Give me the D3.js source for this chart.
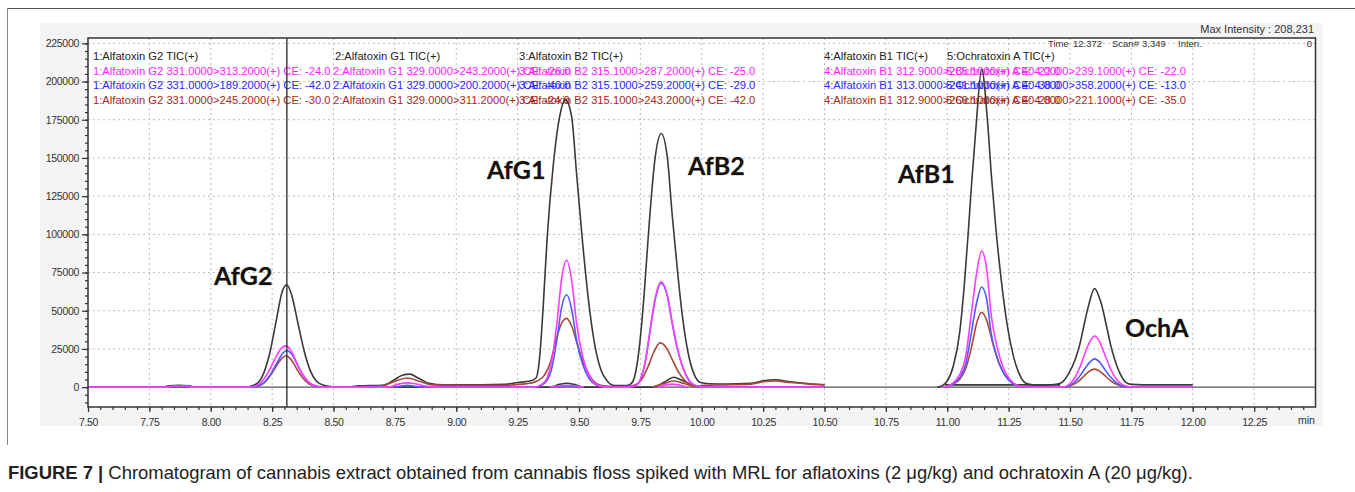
<!DOCTYPE html>
<html><head><meta charset="utf-8">
<script src="https://cdn.jsdelivr.net/npm/d3@7"></script>
<style>body{margin:0;background:#fff;} svg{display:block;}</style>
</head><body>
<svg id="c" width="1355" height="492"></svg>
<script>
// ---------------- DATA ----------------
const xTickLabels = ["7.50","7.75","8.00","8.25","8.50","8.75","9.00","9.25","9.50","9.75","10.00","10.25","10.50","10.75","11.00","11.25","11.50","11.75","12.00","12.25"];
const yTickValues = [0,25000,50000,75000,100000,125000,150000,175000,200000,225000];
const cursorTime = 8.31;
const maxIntensity = "Max Intensity : 208,231";
const statusTexts = ["Time", "12.372", "Scan#", "3,349", "Inten.", "0"];

const channelTitles = ["1:Alfatoxin G2 TIC(+)","2:Alfatoxin G1 TIC(+)","3:Alfatoxin B2 TIC(+)","4:Alfatoxin B1 TIC(+)","5:Ochratoxin A TIC(+)"];
const mrmMagenta = ["1:Alfatoxin G2 331.0000>313.2000(+) CE: -24.0","2:Alfatoxin G1 329.0000>243.2000(+) CE: -26.0","3:Alfatoxin B2 315.1000>287.2000(+) CE: -25.0","4:Alfatoxin B1 312.9000>285.1000(+) CE: -22.0","5:Ochratoxin A 404.0000>239.1000(+) CE: -22.0"];
const mrmBlue = ["1:Alfatoxin G2 331.0000>189.2000(+) CE: -42.0","2:Alfatoxin G1 329.0000>200.2000(+) CE: -40.0","3:Alfatoxin B2 315.1000>259.2000(+) CE: -29.0","4:Alfatoxin B1 313.0000>241.1000(+) CE: -38.0","5:Ochratoxin A 404.0000>358.2000(+) CE: -13.0"];
const mrmBrown = ["1:Alfatoxin G2 331.0000>245.2000(+) CE: -30.0","2:Alfatoxin G1 329.0000>311.2000(+) CE: -24.0","3:Alfatoxin B2 315.1000>243.2000(+) CE: -42.0","4:Alfatoxin B1 312.9000>269.1000(+) CE: -28.0","5:Ochratoxin A 404.0000>221.1000(+) CE: -35.0"];

const peakNames = ["AfG2","AfG1","AfB2","AfB1","OchA"];

// traces: [retention time (min), intensity]; null intensity = gap between segments
const blackTrace = [
 [7.50,0],[7.80,0],[7.83,900],[7.87,1200],[7.91,900],[7.94,0],[8.14,0],[8.18,1500],[8.21,7000],[8.24,22000],[8.265,42000],[8.29,62000],[8.31,67000],[8.33,60000],[8.355,42000],[8.38,24000],[8.405,11000],[8.43,4000],[8.46,1200],[8.50,300],[8.57,300],
 [8.60,800],[8.70,1200],[8.74,4000],[8.78,7800],[8.81,8500],[8.845,6000],[8.89,2500],[8.95,1500],[9.10,1500],[9.20,1800],[9.25,3000],[9.30,4000],[9.325,6000],[9.34,20000],[9.355,55000],[9.37,97000],[9.395,145000],[9.42,176000],[9.445,188000],[9.47,177000],[9.49,140000],[9.515,94000],[9.54,55000],[9.565,27000],[9.59,11000],[9.615,4000],[9.645,1000],
 [9.69,1000],[9.71,2000],[9.725,6000],[9.745,25000],[9.765,60000],[9.785,105000],[9.81,150000],[9.835,166000],[9.86,150000],[9.88,112000],[9.90,78000],[9.92,48000],[9.945,22000],[9.97,8000],[9.995,3000],[10.03,2200],[10.10,2000],[10.20,2500],[10.25,4200],[10.30,4800],[10.36,3500],[10.44,2200],[10.50,1500],[10.50,null],
 [10.96,0],[10.98,1000],[11.00,4000],[11.025,14000],[11.05,35000],[11.07,68000],[11.085,100000],[11.10,135000],[11.118,172000],[11.14,208231],[11.165,172000],[11.18,138000],[11.198,104000],[11.22,70000],[11.245,40000],[11.27,20000],[11.295,8000],[11.32,2500],[11.35,1500],
 [11.42,1500],[11.45,2000],[11.47,3500],[11.495,9000],[11.52,17600],[11.54,28000],[11.555,39000],[11.575,53000],[11.60,64500],[11.625,56000],[11.65,39000],[11.665,28000],[11.683,17600],[11.705,8500],[11.725,3500],[11.75,1800],[11.80,1500],[12.00,1500]
];
const blackMinor = [
 [8.57,0],[9.38,0],[9.42,1800],[9.45,2500],[9.48,1800],[9.52,0],[9.80,0],[9.85,3500],[9.885,6500],[9.92,4500],[9.96,1500],[10.00,0],[10.50,0],[10.50,null],
 [10.99,1500],[11.46,1500]
];
const magentaTrace = [
 [7.50,0],[7.82,0],[7.845,700],[7.90,700],[7.925,0],[8.16,0],[8.20,2500],[8.23,8500],[8.26,18000],[8.285,25000],[8.305,27000],[8.325,24500],[8.35,16000],[8.375,8000],[8.40,3000],[8.43,800],[8.46,0],
 [8.72,0],[8.76,1800],[8.80,2800],[8.84,2000],[8.88,500],[8.92,0],
 [9.32,0],[9.345,1500],[9.37,6000],[9.39,18000],[9.41,42000],[9.43,72000],[9.45,83000],[9.47,70000],[9.49,42000],[9.515,20000],[9.54,8000],[9.565,2500],[9.59,500],[9.62,0],
 [9.70,0],[9.73,1000],[9.75,5000],[9.77,17000],[9.79,38000],[9.81,58000],[9.835,69000],[9.86,60000],[9.88,42000],[9.90,26000],[9.925,12000],[9.95,4000],[9.975,1000],[10.00,0],[10.50,0],[10.50,null],
 [10.98,0],[11.00,500],[11.025,3000],[11.05,8000],[11.075,20000],[11.095,44000],[11.12,75000],[11.14,89000],[11.16,78000],[11.18,46000],[11.205,25000],[11.23,12000],[11.255,5000],[11.28,1500],[11.31,300],[11.34,0],
 [11.47,0],[11.49,1000],[11.515,5000],[11.54,13000],[11.565,24000],[11.585,31000],[11.60,33500],[11.62,30000],[11.64,22000],[11.665,12000],[11.69,5000],[11.715,1500],[11.74,300],[11.77,0],[12.00,0]
];
const magentaMinor = [[9.38,0],[9.45,1200],[9.52,0],[9.52,null],[9.82,0],[9.88,2000],[9.94,0]];
const blueTrace = [
 [7.50,0],[8.17,0],[8.21,2200],[8.24,7500],[8.27,16000],[8.29,21500],[8.31,24000],[8.33,21500],[8.355,14000],[8.38,7000],[8.405,2500],[8.43,600],[8.47,0],
 [8.74,0],[8.80,1200],[8.86,0],
 [9.32,0],[9.345,1100],[9.37,4400],[9.39,13000],[9.41,31000],[9.43,53000],[9.45,60500],[9.47,51000],[9.49,31000],[9.515,15000],[9.54,6000],[9.565,1800],[9.59,400],[9.62,0],
 [9.70,0],[9.73,900],[9.75,4800],[9.77,16500],[9.79,37000],[9.81,57000],[9.835,68000],[9.86,59500],[9.88,41500],[9.90,25500],[9.925,11800],[9.95,3900],[9.975,900],[10.00,0],[10.50,0],[10.50,null],
 [10.98,0],[11.00,400],[11.025,2200],[11.05,6000],[11.075,15000],[11.095,32500],[11.12,55500],[11.14,65500],[11.16,58000],[11.18,34000],[11.205,18500],[11.23,9000],[11.255,3700],[11.28,1100],[11.31,200],[11.34,0],
 [11.47,0],[11.49,600],[11.515,2800],[11.54,7200],[11.565,13200],[11.585,17000],[11.60,18500],[11.62,16500],[11.64,12000],[11.665,6600],[11.69,2800],[11.715,800],[11.74,200],[11.77,0],[12.00,0]
];
const blueMinor = [[9.40,0],[9.45,800],[9.50,0]];
const brownTrace = [
 [7.50,0],[7.84,0],[7.86,700],[7.90,700],[7.92,0],[8.17,0],[8.21,2000],[8.24,7000],[8.27,14500],[8.29,19000],[8.305,20500],[8.325,18500],[8.35,12000],[8.375,6000],[8.40,2200],[8.43,500],[8.46,0],
 [8.60,300],[8.70,800],[8.745,3500],[8.80,6000],[8.85,3800],[8.90,1500],[9.00,1200],[9.20,1200],
 [9.27,2000],[9.30,2500],[9.33,4000],[9.36,8000],[9.385,17000],[9.41,33000],[9.43,42000],[9.45,45000],[9.47,40000],[9.495,27000],[9.52,15000],[9.545,7000],[9.57,2500],[9.60,800],[9.64,300],
 [9.70,500],[9.73,1500],[9.755,5000],[9.78,13000],[9.805,23000],[9.83,29000],[9.855,26000],[9.88,18000],[9.905,10000],[9.93,4500],[9.955,1800],[9.98,700],[10.01,1200],[10.10,1500],[10.20,2000],[10.25,3500],[10.30,4000],[10.36,3000],[10.44,2000],[10.50,1500],[10.50,null],
 [10.98,0],[11.00,500],[11.025,2000],[11.05,5000],[11.075,12000],[11.10,27000],[11.12,42000],[11.14,49000],[11.16,44000],[11.185,29000],[11.21,16000],[11.235,8000],[11.26,3500],[11.285,1200],[11.31,300],[11.34,0],
 [11.47,0],[11.49,400],[11.515,1800],[11.54,4600],[11.565,8500],[11.585,11000],[11.60,11800],[11.62,10500],[11.64,7800],[11.665,4300],[11.69,1800],[11.715,500],[11.74,100],[11.77,0],[12.00,0]
];
const brownMinor = [[9.80,0],[9.85,2500],[9.885,4000],[9.92,2800],[9.96,800],[10.00,0]];

const captionBold = "FIGURE 7 |";
const captionText = " Chromatogram of cannabis extract obtained from cannabis floss spiked with MRL for aflatoxins (2 \u03bcg/kg) and ochratoxin A (20 \u03bcg/kg).";

// ---------------- LAYOUT / STYLE ----------------
const svg = d3.select("#c");
const FONT = "'Liberation Sans', Arial, sans-serif";
const x = d3.scaleLinear().domain([7.5, 12.5]).range([88, 1315.5]);
const y = d3.scaleLinear().domain([-13000, 228500]).range([407, 38]);
const colors = {black:"#3a3a3a", magenta:"#ff3cff", blue:"#4f5bff", brown:"#a8473c"};

// figure box
svg.append("line").attr("x1",7).attr("x2",1355).attr("y1",8.5).attr("y2",8.5).attr("stroke","#555").attr("stroke-width",1.2);
svg.append("line").attr("x1",7.5).attr("x2",7.5).attr("y1",8).attr("y2",445).attr("stroke","#888").attr("stroke-width",1);

// grey panel
svg.append("rect").attr("x",40).attr("y",23).attr("width",1283).attr("height",403).attr("fill","#f4f4f4");
// plot area
svg.append("rect").attr("x",x(7.5)).attr("y",y(228500)).attr("width",x(12.5)-x(7.5)).attr("height",y(-13000)-y(228500)).attr("fill","#fff");

// gridlines
const grid = svg.append("g").attr("stroke","#bdbdbd").attr("stroke-width",1).attr("stroke-dasharray","2,3");
xTickLabels.slice(1).forEach(t => {
  grid.append("line").attr("x1",x(+t)).attr("x2",x(+t)).attr("y1",y(228500)).attr("y2",y(-13000));
});
yTickValues.slice(1).forEach(v => {
  grid.append("line").attr("x1",x(7.5)).attr("x2",x(12.5)).attr("y1",y(v)).attr("y2",y(v));
});

// header texts
const headerX = [93, 333, 519, 824, 946];
const hdr = svg.append("g").attr("font-family",FONT).attr("font-size","11.2px");
const rows = [[channelTitles,"#222",60,[93,335,519,824,947]],[mrmMagenta,"#ff22ff",74.5,headerX],[mrmBlue,"#2a2aff",89,headerX],[mrmBrown,"#a52a22",103.5,headerX]];
rows.forEach(([arr,col,yy,xs]) => {
  arr.forEach((s,i) => hdr.append("text").attr("x",xs[i]).attr("y",yy).attr("fill",col).text(s));
});

// status line
const stX = [1048, 1073, 1112, 1142, 1178];
statusTexts.slice(0,5).forEach((s,i)=> svg.append("text").attr("x",stX[i]).attr("y",47).attr("font-family",FONT).attr("font-size","9.5px").attr("fill","#333").text(s));
svg.append("text").attr("x",1312).attr("y",47).attr("text-anchor","end").attr("font-family",FONT).attr("font-size","9.5px").attr("fill","#333").text(statusTexts[5]);
svg.append("text").attr("x",1314).attr("y",33).attr("text-anchor","end").attr("font-family",FONT).attr("font-size","11px").attr("fill","#333").text(maxIntensity);

// clip
svg.append("clipPath").attr("id","clip").append("rect").attr("x",x(7.5)).attr("y",y(228500)).attr("width",x(12.5)-x(7.5)).attr("height",y(-13000)-y(228500));

// zero line
svg.append("line").attr("x1",x(7.5)).attr("x2",x(12.5)).attr("y1",y(0)).attr("y2",y(0)).attr("stroke","#555").attr("stroke-width",1.2);

const line = d3.line().defined(d => d[1] !== null).x(d => x(d[0])).y(d => y(d[1])).curve(d3.curveMonotoneX);
const traces = svg.append("g").attr("clip-path","url(#clip)").attr("fill","none").attr("stroke-width",1.6).attr("stroke-linejoin","round");
[[blackMinor,colors.black],[brownMinor,colors.brown],[blueMinor,colors.blue],[magentaMinor,colors.magenta],
 [blackTrace,colors.black],[brownTrace,colors.brown],[blueTrace,colors.blue],[magentaTrace,colors.magenta]].forEach(([d,c]) => {
  traces.append("path").datum(d).attr("d",line).attr("stroke",c);
});

// cursor line
svg.append("line").attr("x1",x(cursorTime)).attr("x2",x(cursorTime)).attr("y1",y(228500)).attr("y2",y(-13000)).attr("stroke","#222").attr("stroke-width",1.3);

// frame
svg.append("rect").attr("x",x(7.5)).attr("y",y(228500)).attr("width",x(12.5)-x(7.5)).attr("height",y(-13000)-y(228500)).attr("fill","none").attr("stroke","#333").attr("stroke-width",1.5);

// axes
const yAxisMinor = d3.axisLeft(y).tickValues(d3.range(-10000, 228001, 5000)).tickSize(3).tickFormat("");
const yAxis = d3.axisLeft(y).tickValues(yTickValues).tickSize(6).tickFormat(d => String(d));
const gy1 = svg.append("g").attr("transform",`translate(${x(7.5)},0)`).call(yAxisMinor);
const gy = svg.append("g").attr("transform",`translate(${x(7.5)},0)`).call(yAxis);
const xAxisMinor = d3.axisBottom(x).tickValues(d3.range(7.5, 12.49, 0.05)).tickSize(3).tickFormat("");
const xAxis = d3.axisBottom(x).tickValues(xTickLabels.map(Number)).tickSize(5).tickFormat((d,i) => xTickLabels[i]);
const gx1 = svg.append("g").attr("transform",`translate(0,${y(-13000)})`).call(xAxisMinor);
const gx = svg.append("g").attr("transform",`translate(0,${y(-13000)})`).call(xAxis);
[gy1,gy,gx1,gx].forEach(g => {
  g.select(".domain").remove();
  g.selectAll("line").attr("stroke","#333").attr("stroke-width",1.2);
  g.selectAll("text").attr("font-family",FONT).attr("font-size","10.5px").attr("fill","#333").attr("letter-spacing","-0.3px");
});
gx.selectAll("text").attr("dy","1.05em");
svg.append("text").attr("x",x(12.5)-9).attr("y",y(-13000)+17).attr("text-anchor","middle").attr("font-family",FONT).attr("font-size","10.5px").attr("fill","#333").text("min");

// peak labels
const labelPos = [[214,285],[487,179],[688,175],[898,183],[1125,337]];
peakNames.forEach((n,i) => {
  svg.append("text").attr("x",labelPos[i][0]).attr("y",labelPos[i][1])
    .attr("font-family","Lato, 'Open Sans', sans-serif").attr("font-weight","bold").attr("font-size","25px")
    .attr("fill","#111").attr("stroke","#a08a50").attr("stroke-width",0.4).attr("paint-order","stroke").text(n);
});

// caption
const cap = svg.append("text").attr("x",8).attr("y",479).attr("font-family",FONT).attr("font-size","16px").attr("fill","#222");
cap.append("tspan").attr("font-weight","bold").text(captionBold);
cap.append("tspan").text(captionText);
const w = cap.node().getComputedTextLength();
cap.attr("font-size", (16 * 1185 / w).toFixed(2) + "px");
</script>
</body></html>
